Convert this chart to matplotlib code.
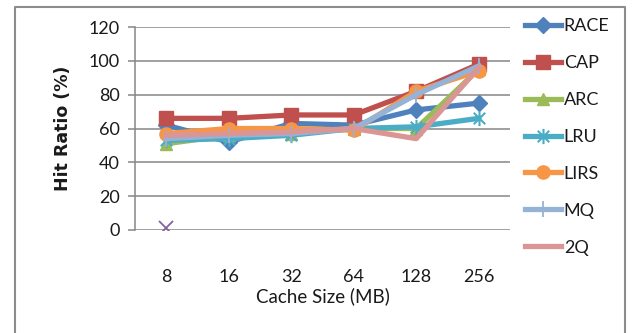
import numpy as np
import matplotlib
matplotlib.use("Agg")
import matplotlib.pyplot as plt
from matplotlib.path import Path
from matplotlib.lines import Line2D

categories = ["8", "16", "32", "64", "128", "256"]
race = [62, 52, 63, 62, 71, 75]
cap = [66, 66, 68, 68, 82, 98]
arc = [51, 56, 57, 60, 60, 95]
lru = [53, 54, 56, 60, 61, 66]
lirs = [57, 60, 60, 59, 82, 94]
mq = [54, 56, 57, 60, 80, 97]
q2 = [56, 57, 58, 60, 54, 96]
stray = [1, np.nan, np.nan, np.nan, np.nan, np.nan]
yticks = [0, 20, 40, 60, 80, 100, 120]

plt.rcParams['font.family'] = ['Lato', 'DejaVu Sans']

fig = plt.figure(figsize=(6.33, 3.33), dpi=100)
ax = fig.add_axes([135/633, 1-230/333, 375/633, 203/333])

x = np.arange(len(categories)) + 0.5

ast = Path([(0, -1), (0, 1), (-0.75, -0.75), (0.75, 0.75), (-0.75, 0.75), (0.75, -0.75)],
           [Path.MOVETO, Path.LINETO, Path.MOVETO, Path.LINETO, Path.MOVETO, Path.LINETO])

lw = 3.8
series = [
    ("RACE", race, "#4F81BD", "D", 8.5, {}),
    ("CAP", cap, "#C0504D", "s", 9.5, {}),
    ("ARC", arc, "#9BBB59", "^", 9, {}),
    ("LRU", lru, "#4BACC6", ast, 11, {"markeredgewidth": 1.5}),
    ("LIRS", lirs, "#F79646", "o", 9.5, {}),
    ("MQ", mq, "#95B3D7", "|", 12, {"markeredgewidth": 1.3}),
    ("2Q", q2, "#D99694", None, 0, {}),
]
handles = []
for name, vals, col, mk, ms, kw in series:
    ln, = ax.plot(x, vals, color=col, lw=lw, marker=mk, markersize=ms,
                  markerfacecolor=col, markeredgecolor=col, solid_joinstyle='round',
                  label=name, **kw)
    handles.append(ln)
ax.plot(x, stray, color="#8064A2", lw=0, marker="x", markersize=10, markeredgewidth=1.3)

ax.set_xlim(0, len(categories))
ax.set_ylim(0, 120)
ax.set_yticks(yticks)
ax.set_xticks(x)
ax.set_xticklabels(categories)
ax.yaxis.grid(True, color="#868686", lw=1.1)
ax.set_axisbelow(True)
for s in ["top", "right", "bottom"]:
    ax.spines[s].set_visible(False)
ax.spines["left"].set_color("#868686")
ax.spines["left"].set_linewidth(1.1)
ax.tick_params(axis="y", direction="out", length=5, color="#868686", width=1.1,
               labelsize=13, pad=6, labelcolor="#1a1a1a")
ax.tick_params(axis="x", length=0, labelsize=13, pad=28, labelcolor="#1a1a1a")
ax.set_xlabel("Cache Size (MB)", fontsize=13.5, labelpad=2, color="#1a1a1a")
ax.set_ylabel("Hit Ratio (%)", fontdict={"family": "DejaVu Sans", "size": 12.5,
              "weight": "bold"}, labelpad=12, color="#1a1a1a")

leg = fig.legend(handles=handles, loc="upper left", bbox_to_anchor=(525/633, 1-18/333),
                 frameon=False, fontsize=13, handlelength=2.0, handletextpad=0.15,
                 labelspacing=1.16, borderaxespad=0, borderpad=0)
for t in leg.get_texts():
    t.set_color("#1a1a1a")

# outer frame (bottom edge runs off the image)
fig.add_artist(Line2D([15/633, 15/633, 625/633, 625/633], [-0.05, 1-7/333, 1-7/333, -0.05],
                      transform=fig.transFigure, color="#8c8c8c", lw=1.5))

fig.savefig("out.png", dpi=100)
